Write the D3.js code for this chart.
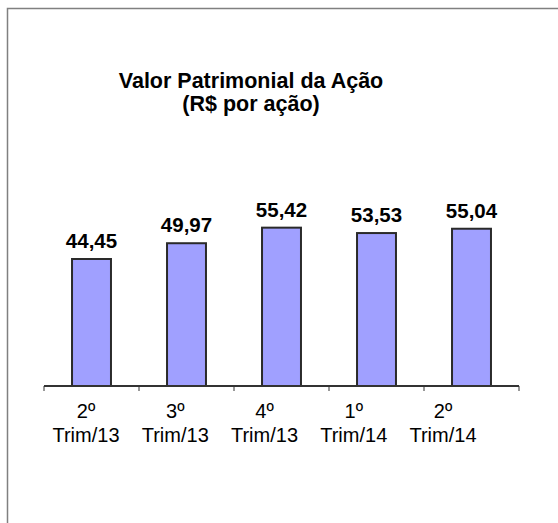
<!DOCTYPE html>
<html>
<head>
<meta charset="utf-8">
<script src="https://cdn.jsdelivr.net/npm/d3@7"></script>
<style>
  body { margin: 0; background: #fff; }
  svg { display: block; font-family: Arial, "Liberation Sans", sans-serif; }
</style>
</head>
<body>
<div id="chart"></div>
<script>
// data
var quarters = ["2º", "3º", "4º", "1º", "2º"];
var periods = ["Trim/13", "Trim/13", "Trim/13", "Trim/14", "Trim/14"];
var values = [44.45, 49.97, 55.42, 53.53, 55.04];
var valueLabels = ["44,45", "49,97", "55,42", "53,53", "55,04"];
var titleLines = ["Valor Patrimonial da Ação", "(R$ por ação)"];

var width = 558, height = 523;
var plot = {left: 44, right: 519, top: 186, bottom: 386};

var svg = d3.select("#chart")
  .append("svg")
  .attr("width", width)
  .attr("height", height);

// frame
svg.append("rect")
  .attr("x", 7.5).attr("y", 8.5)
  .attr("width", 600).attr("height", 600)
  .attr("fill", "none")
  .attr("stroke", "#808080")
  .attr("stroke-width", 1.5);

var idx = d3.range(values.length);

var x = d3.scaleBand()
  .domain(idx)
  .range([plot.left, plot.right])
  .paddingInner(0.59)
  .paddingOuter(0.295);

var y = d3.scaleLinear()
  .domain([0, 70])
  .range([plot.bottom, plot.top]);

// category labels sit a little tighter than the bars
var xLab = d3.scalePoint()
  .domain(idx)
  .range([86, 443]);

// title
svg.append("g")
  .selectAll("text")
  .data(titleLines)
  .join("text")
    .attr("x", 251)
    .attr("y", (d, i) => 88 + i * 23)
    .attr("text-anchor", "middle")
    .style("font-size", "21.5px")
    .style("font-weight", "bold")
    .text(d => d);

// bars
svg.append("g")
  .selectAll("rect")
  .data(idx)
  .join("rect")
    .attr("x", i => x(i))
    .attr("y", i => y(values[i]))
    .attr("width", x.bandwidth())
    .attr("height", i => y(0) - y(values[i]))
    .attr("fill", "#a0a0ff")
    .attr("stroke", "#2a2a2a")
    .attr("stroke-width", 2);

// value labels
svg.append("g")
  .selectAll("text")
  .data(idx)
  .join("text")
    .attr("x", i => x(i) + x.bandwidth() / 2)
    .attr("y", i => y(values[i]) - 11)
    .attr("text-anchor", "middle")
    .style("font-size", "20.5px")
    .style("font-weight", "bold")
    .text(i => valueLabels[i]);

// axis line + ticks between categories
var axis = svg.append("g");
axis.append("line")
  .attr("x1", plot.left).attr("x2", plot.right)
  .attr("y1", plot.bottom).attr("y2", plot.bottom)
  .attr("stroke", "#333")
  .attr("stroke-width", 2);

axis.selectAll(".tick")
  .data(d3.range(values.length + 1))
  .join("line")
    .attr("class", "tick")
    .attr("x1", i => plot.left + i * x.step())
    .attr("x2", i => plot.left + i * x.step())
    .attr("y1", plot.bottom)
    .attr("y2", plot.bottom + 5)
    .attr("stroke", "#333")
    .attr("stroke-width", 1);

// category labels
var lab = svg.append("g")
  .selectAll("text")
  .data(idx)
  .join("text")
    .attr("text-anchor", "middle")
    .style("font-size", "20px");

lab.append("tspan")
  .attr("x", i => xLab(i))
  .attr("y", 418)
  .text(i => quarters[i]);
lab.append("tspan")
  .attr("x", i => xLab(i))
  .attr("y", 442)
  .text(i => periods[i]);
</script>
</body>
</html>
